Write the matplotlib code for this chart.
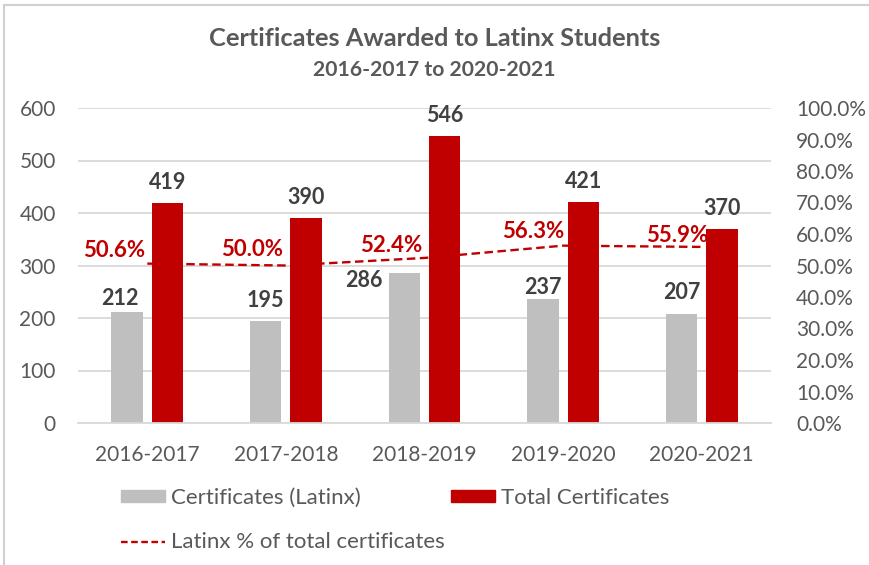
import matplotlib
matplotlib.use("Agg")
import matplotlib.pyplot as plt
import numpy as np
from matplotlib.patches import Patch
from matplotlib.lines import Line2D

categories = ["2016-2017", "2017-2018", "2018-2019", "2019-2020", "2020-2021"]
latinx = [212, 195, 286, 237, 207]
total = [419, 390, 546, 421, 370]
pct = [50.6, 50.0, 52.4, 56.3, 55.9]

# label placement nudges (pixels), mimicking the reference's label layout
latinx_lbl_dx = [-7, 0, -40, 0, 0]
latinx_lbl_dy = [7, 14, -14, 5, 15]
pct_lbl_dx = [-2, -3, -2, 1, 7]
pct_lbl_dy = [7, 9, 6, 8, 5]

GREY = "#BFBFBF"
RED = "#C00000"
TXT = "#595959"
DARK = "#404040"
GRID = "#D9D9D9"
FONT = ["Lato", "DejaVu Sans"]
plt.rcParams['font.family'] = FONT

W, H = 869, 565
fig = plt.figure(figsize=(W/100, H/100), dpi=100)
ax = fig.add_axes([78/W, 1-423/H, (771-78)/W, (423-108)/H])
ax2 = ax.twinx()

x = np.arange(len(categories))
bw = 0.227
off = 0.146
ax.bar(x - off, latinx, bw, color=GREY, zorder=2)
ax.bar(x + off, total, bw, color=RED, zorder=2)
ax.set_xlim(-0.5, len(categories) - 0.5)
ax.set_ylim(0, 600)
ax.set_yticks(range(0, 601, 100))
ax.yaxis.grid(True, color=GRID, lw=1.3)
ax.set_axisbelow(True)
for s in ax.spines.values():
    s.set_visible(False)
for s in ax2.spines.values():
    s.set_visible(False)
ax.spines['bottom'].set_visible(True)
ax.spines['bottom'].set_color(GRID)
ax.spines['bottom'].set_linewidth(1.3)
ax.set_xticks(x)
ax.set_xticklabels(categories)
ax.tick_params(axis='both', length=0, colors=TXT, labelsize=15)
ax.tick_params(axis='x', pad=16)
ax.tick_params(axis='y', pad=16)

for xi, v, dx, dy in zip(x, latinx, latinx_lbl_dx, latinx_lbl_dy):
    ax.annotate(str(v), (xi - off, v), xytext=(dx, dy), textcoords='offset pixels',
                ha='center', va='baseline', fontsize=15.5, fontweight='bold', color=DARK, zorder=5)
for xi, v in zip(x, total):
    ax.annotate(str(v), (xi + off, v), xytext=(0, 14), textcoords='offset pixels',
                ha='center', va='baseline', fontsize=15.5, fontweight='bold', color=DARK, zorder=5)

ax2.plot(x, [p / 100 for p in pct], color=RED, ls=(0, (3.6, 1.9)), lw=1.7, zorder=3)
ax2.set_ylim(0, 1)
ticks = np.arange(0, 1.001, 0.1)
ax2.set_yticks(ticks)
ax2.set_yticklabels([f"{v*100:.1f}%" for v in ticks])
ax2.tick_params(axis='y', length=0, colors=TXT, labelsize=15, pad=18)
for xi, p, dx, dy in zip(x, pct, pct_lbl_dx, pct_lbl_dy):
    ax2.annotate(f"{p:.1f}%", (xi, p / 100), xytext=(dx, dy), textcoords='offset pixels',
                 ha='right', va='baseline', fontsize=16, fontweight='bold', color=RED)

fig.text(0.5, 1 - 39/H, "Certificates Awarded to Latinx Students", ha='center', va='center',
         fontsize=18.3, fontweight='bold', color=TXT)
fig.text(0.5, 1 - 70/H, "2016-2017 to 2020-2021", ha='center', va='center',
         fontsize=15.2, fontweight='bold', color=TXT)

handles = [Patch(color=GREY), Line2D([0], [0], color=RED, ls=(0, (2.8, 1.5)), lw=1.7), Patch(color=RED)]
labels = ["Certificates (Latinx)", "Latinx % of total certificates", "Total Certificates"]
leg = fig.legend(handles, labels, ncol=2, loc='upper left', bbox_to_anchor=(121/W, 1 - 488/H),
                 frameon=False, fontsize=16, labelcolor=TXT, handlelength=2.0, handleheight=0.45,
                 handletextpad=0.23, columnspacing=0.3, labelspacing=1.1,
                 borderaxespad=0, borderpad=0)

fig.add_artist(Line2D([4/W, 1], [1 - 5/H, 1 - 5/H], color="#D0D0D0", lw=1.5))
fig.add_artist(Line2D([4/W, 4/W], [0, 1 - 5/H], color="#D0D0D0", lw=1.5))

fig.savefig("out.png", dpi=100)
